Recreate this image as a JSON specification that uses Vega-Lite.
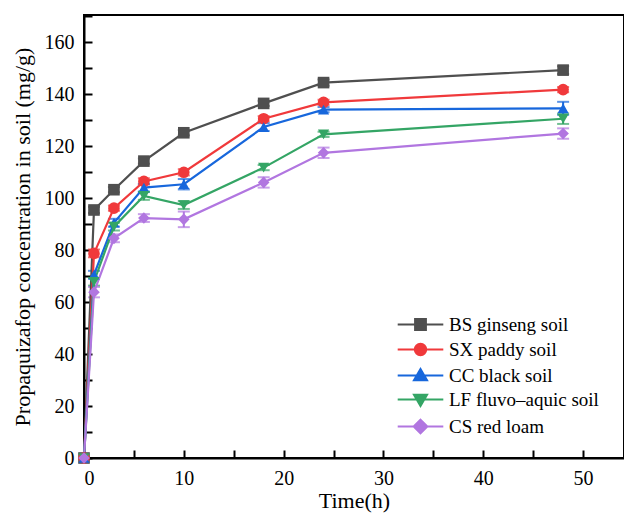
{
  "$schema": "https://vega.github.io/schema/vega-lite/v6.json",
  "width": 540,
  "height": 443,
  "autosize": "none",
  "padding": {"left": 84, "top": 15, "right": 0, "bottom": 57},
  "background": "white",
  "config": {
    "view": {"stroke": "black", "strokeWidth": 2},
    "font": "Liberation Serif",
    "axis": {
      "grid": false,
      "domainColor": "black",
      "domainWidth": 2,
      "tickColor": "black",
      "tickWidth": 2,
      "tickSize": -8,
      "labelPadding": 18,
      "labelFont": "Liberation Serif",
      "labelFontSize": 20,
      "labelColor": "black",
      "titleFont": "Liberation Serif",
      "titleFontSize": 22,
      "titleFontWeight": "normal",
      "titleColor": "black"
    },
    "legend": {
      "labelFont": "Liberation Serif",
      "labelFontSize": 19,
      "labelColor": "black"
    }
  },
  "data": {
    "values": [
      {"soil": "BS ginseng soil", "t": 0, "c": 0, "err": 0},
      {"soil": "BS ginseng soil", "t": 1, "c": 95.4, "err": 1.2},
      {"soil": "BS ginseng soil", "t": 3, "c": 103.2, "err": 1.0},
      {"soil": "BS ginseng soil", "t": 6, "c": 114.2, "err": 1.0},
      {"soil": "BS ginseng soil", "t": 10, "c": 125.1, "err": 1.0},
      {"soil": "BS ginseng soil", "t": 18, "c": 136.4, "err": 1.0},
      {"soil": "BS ginseng soil", "t": 24, "c": 144.4, "err": 1.2},
      {"soil": "BS ginseng soil", "t": 48, "c": 149.2, "err": 1.5},
      {"soil": "SX paddy soil", "t": 0, "c": 0, "err": 0},
      {"soil": "SX paddy soil", "t": 1, "c": 78.7, "err": 1.5},
      {"soil": "SX paddy soil", "t": 3, "c": 96.1, "err": 1.0},
      {"soil": "SX paddy soil", "t": 6, "c": 106.4, "err": 1.2},
      {"soil": "SX paddy soil", "t": 10, "c": 109.9, "err": 1.2},
      {"soil": "SX paddy soil", "t": 18, "c": 130.5, "err": 1.0},
      {"soil": "SX paddy soil", "t": 24, "c": 136.8, "err": 1.0},
      {"soil": "SX paddy soil", "t": 48, "c": 141.7, "err": 1.0},
      {"soil": "CC black soil", "t": 0, "c": 0, "err": 0},
      {"soil": "CC black soil", "t": 1, "c": 70.5, "err": 1.5},
      {"soil": "CC black soil", "t": 3, "c": 90.5, "err": 1.5},
      {"soil": "CC black soil", "t": 6, "c": 104.0, "err": 1.5},
      {"soil": "CC black soil", "t": 10, "c": 105.3, "err": 2.0},
      {"soil": "CC black soil", "t": 18, "c": 127.3, "err": 1.5},
      {"soil": "CC black soil", "t": 24, "c": 134.0, "err": 1.0},
      {"soil": "CC black soil", "t": 48, "c": 134.5, "err": 2.5},
      {"soil": "LF fluvo–aquic soil", "t": 0, "c": 0, "err": 0},
      {"soil": "LF fluvo–aquic soil", "t": 1, "c": 67.8, "err": 1.5},
      {"soil": "LF fluvo–aquic soil", "t": 3, "c": 89.0, "err": 1.5},
      {"soil": "LF fluvo–aquic soil", "t": 6, "c": 100.8, "err": 1.5},
      {"soil": "LF fluvo–aquic soil", "t": 10, "c": 97.3, "err": 1.5},
      {"soil": "LF fluvo–aquic soil", "t": 18, "c": 111.7, "err": 1.0},
      {"soil": "LF fluvo–aquic soil", "t": 24, "c": 124.5, "err": 1.0},
      {"soil": "LF fluvo–aquic soil", "t": 48, "c": 130.5, "err": 2.0},
      {"soil": "CS red loam", "t": 0, "c": 0, "err": 0},
      {"soil": "CS red loam", "t": 1, "c": 63.8, "err": 2.0},
      {"soil": "CS red loam", "t": 3, "c": 84.5, "err": 1.5},
      {"soil": "CS red loam", "t": 6, "c": 92.3, "err": 1.5},
      {"soil": "CS red loam", "t": 10, "c": 91.8, "err": 3.0},
      {"soil": "CS red loam", "t": 18, "c": 106.0, "err": 2.0},
      {"soil": "CS red loam", "t": 24, "c": 117.4, "err": 2.0},
      {"soil": "CS red loam", "t": 48, "c": 124.8, "err": 2.0}
    ]
  },
  "encoding": {
    "x": {
      "field": "t", "type": "quantitative",
      "scale": {"domain": [0, 54.1], "nice": false, "zero": false},
      "axis": {
        "values": [0, 5, 10, 15, 20, 25, 30, 35, 40, 45, 50],
        "labelExpr": "datum.value % 10 === 0 ? datum.label : ''",
        "encode": {"ticks": {"update": {"y2": {"signal": "datum.value % 10 === 0 ? -8 : -4"}}}},
        "title": "Time(h)", "titlePadding": 2
      }
    },
    "y": {
      "field": "c", "type": "quantitative",
      "scale": {"domain": [0, 170.4], "nice": false},
      "axis": {
        "values": [0, 10, 20, 30, 40, 50, 60, 70, 80, 90, 100, 110, 120, 130, 140, 150, 160, 170],
        "labelExpr": "datum.value % 20 === 0 ? datum.label : ''",
        "encode": {"ticks": {"update": {"x2": {"signal": "datum.value % 20 === 0 ? 8 : 4"}}}},
        "title": "Propaquizafop concentration in soil (mg/g)", "titlePadding": 10
      }
    },
    "color": {
      "field": "soil", "type": "nominal",
      "scale": {
        "domain": ["BS ginseng soil", "SX paddy soil", "CC black soil", "LF fluvo–aquic soil", "CS red loam"],
        "range": ["#4f4f4f", "#f0393b", "#1767dc", "#34a565", "#b176e0"]
      },
      "legend": {
        "title": null,
        "orient": "none",
        "legendX": 327,
        "legendY": 300,
        "padding": 0,
        "symbolSize": 130,
        "rowPadding": 4,
        "labelOffset": 19,
        "symbolStrokeWidth": 2,
        "encode": {
          "symbols": {
            "update": {
              "shape": {"signal": "datum.value === 'BS ginseng soil' ? 'M-4,0H4M-0.95,-0.95H0.95V0.95H-0.95Z' : datum.value === 'SX paddy soil' ? 'M-4,0H4M-1,0A1,1,0,1,1,1,0A1,1,0,1,1,-1,0Z' : datum.value === 'CC black soil' ? 'M-4,0H4M0,-1.15L1.15,0.85H-1.15Z' : datum.value === 'CS red loam' ? 'M-4,0H4M0,-1.2L1.2,0L0,1.2L-1.2,0Z' : 'M-4,0H4M0,1.15L1.15,-0.85H-1.15Z'"},
              "fill": {"scale": "color", "field": "value"},
              "stroke": {"scale": "color", "field": "value"},
              "opacity": {"value": 1},
              "fillOpacity": {"value": 1},
              "strokeOpacity": {"value": 1}
            }
          }
        }
      }
    }
  },
  "layer": [
    {
      "mark": {"type": "errorbar", "ticks": {"size": 12, "thickness": 2}, "thickness": 2},
      "encoding": {"yError": {"field": "err"}}
    },
    {
      "mark": {"type": "line", "strokeWidth": 2.2}
    },
    {
      "transform": [{"filter": "datum.soil === 'BS ginseng soil'"}],
      "mark": {"type": "point", "shape": "square", "filled": true, "opacity": 1, "size": 135}
    },
    {
      "transform": [{"filter": "datum.soil === 'SX paddy soil'"}],
      "mark": {"type": "point", "shape": "circle", "filled": true, "opacity": 1, "size": 135}
    },
    {
      "transform": [{"filter": "datum.soil === 'CC black soil'"}],
      "mark": {"type": "point", "shape": "triangle-up", "filled": true, "opacity": 1, "size": 125}
    },
    {
      "transform": [{"filter": "datum.soil === 'LF fluvo–aquic soil'"}],
      "mark": {"type": "point", "shape": "triangle-down", "filled": true, "opacity": 1, "size": 125}
    },
    {
      "transform": [{"filter": "datum.soil === 'CS red loam'"}],
      "mark": {"type": "point", "shape": "diamond", "filled": true, "opacity": 1, "size": 135}
    }
  ]
}
